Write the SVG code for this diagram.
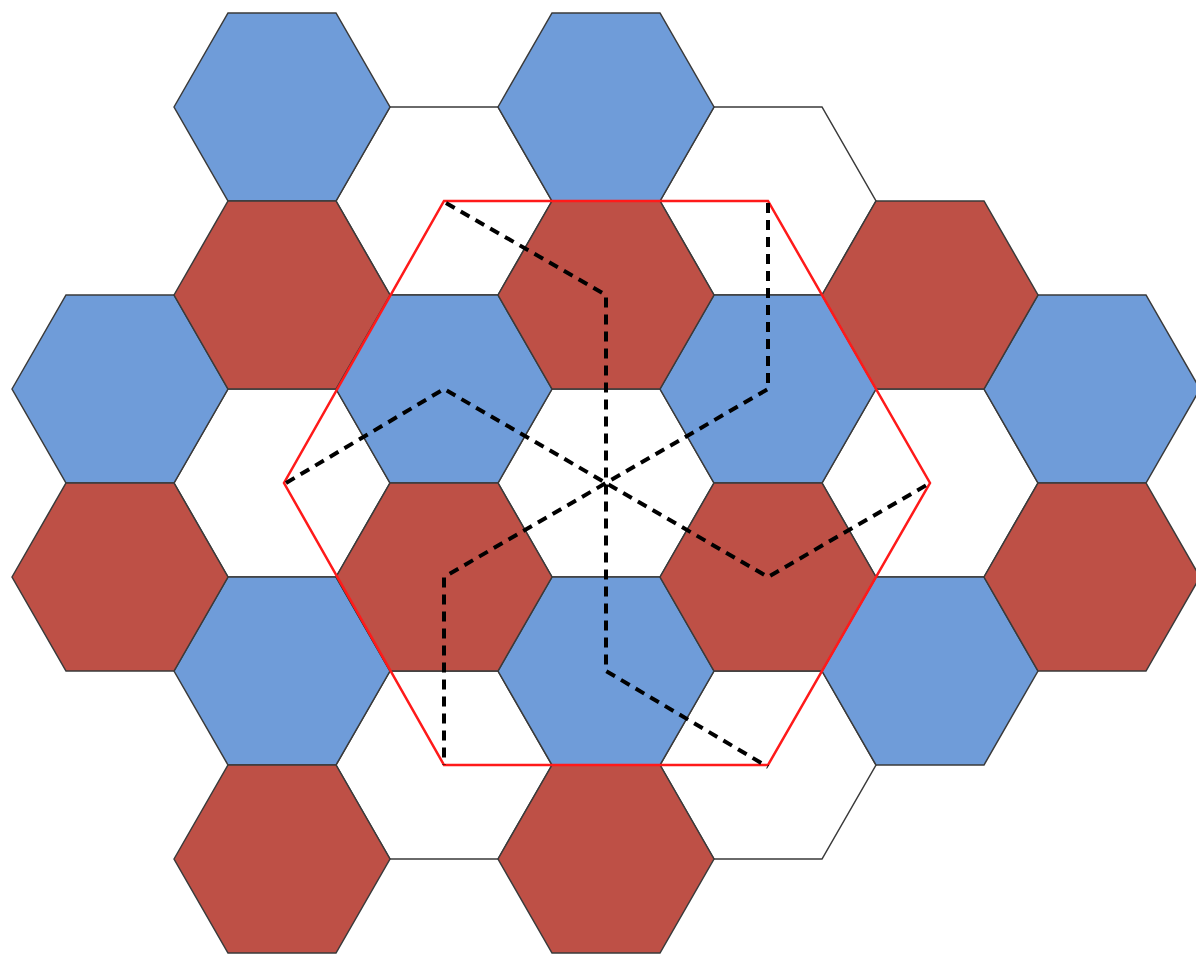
<svg xmlns="http://www.w3.org/2000/svg" xmlns:xlink="http://www.w3.org/1999/xlink" width="1196" height="960" viewBox="0 0 1196 960">
<style>
.h{stroke:#3a3a3a;stroke-width:1.5;stroke-linejoin:miter}
.b{fill:#6F9CD9}
.r{fill:#BE5046}
.w{fill:#FFFFFF}
.big{fill:none;stroke:#FF1A1A;stroke-width:2.5}
.d{fill:none;stroke:#000;stroke-width:4;stroke-dasharray:10 7;stroke-linejoin:round}
</style>
<defs>
<polygon id="hex" points="-108,0 -54,-94 54,-94 108,0 54,94 -54,94"/>
</defs>
<rect width="1196" height="960" fill="#fff"/>
<g id="hexes">
<g id="w1"><use xlink:href="#hex" class="h w" x="444" y="201"/></g>
<g id="w2"><use xlink:href="#hex" class="h w" x="768" y="201"/></g>
<g id="w3"><use xlink:href="#hex" class="h w" x="282" y="483"/></g>
<g id="w4"><use xlink:href="#hex" class="h w" x="606" y="483"/></g>
<g id="w5"><use xlink:href="#hex" class="h w" x="930" y="483"/></g>
<g id="w6"><use xlink:href="#hex" class="h w" x="444" y="765"/></g>
<g id="w7"><use xlink:href="#hex" class="h w" x="768" y="765"/></g>
<g id="b1"><use xlink:href="#hex" class="h b" x="282" y="107"/></g>
<g id="b2"><use xlink:href="#hex" class="h b" x="606" y="107"/></g>
<g id="b3"><use xlink:href="#hex" class="h b" x="120" y="389"/></g>
<g id="b4"><use xlink:href="#hex" class="h b" x="444" y="389"/></g>
<g id="b5"><use xlink:href="#hex" class="h b" x="768" y="389"/></g>
<g id="b6"><use xlink:href="#hex" class="h b" x="1092" y="389"/></g>
<g id="b7"><use xlink:href="#hex" class="h b" x="282" y="671"/></g>
<g id="b8"><use xlink:href="#hex" class="h b" x="606" y="671"/></g>
<g id="b9"><use xlink:href="#hex" class="h b" x="930" y="671"/></g>
<g id="r1"><use xlink:href="#hex" class="h r" x="282" y="295"/></g>
<g id="r2"><use xlink:href="#hex" class="h r" x="606" y="295"/></g>
<g id="r3"><use xlink:href="#hex" class="h r" x="930" y="295"/></g>
<g id="r4"><use xlink:href="#hex" class="h r" x="120" y="577"/></g>
<g id="r5"><use xlink:href="#hex" class="h r" x="444" y="577"/></g>
<g id="r6"><use xlink:href="#hex" class="h r" x="768" y="577"/></g>
<g id="r7"><use xlink:href="#hex" class="h r" x="1092" y="577"/></g>
<g id="r8"><use xlink:href="#hex" class="h r" x="282" y="859"/></g>
<g id="r9"><use xlink:href="#hex" class="h r" x="606" y="859"/></g>
</g>
<g id="bigHex">
<polygon class="big" points="444,201 768,201 930,483 768,765 444,765 284,483"/>
</g>
<g id="connectors">
<polyline class="d" points="446,203 606,295 606,671 768,767"/>
<polyline class="d" points="768,203 768,389 444,577 444,765"/>
<polyline class="d" points="286,483 444,389 768,577 930,483"/>
</g>
</svg>
